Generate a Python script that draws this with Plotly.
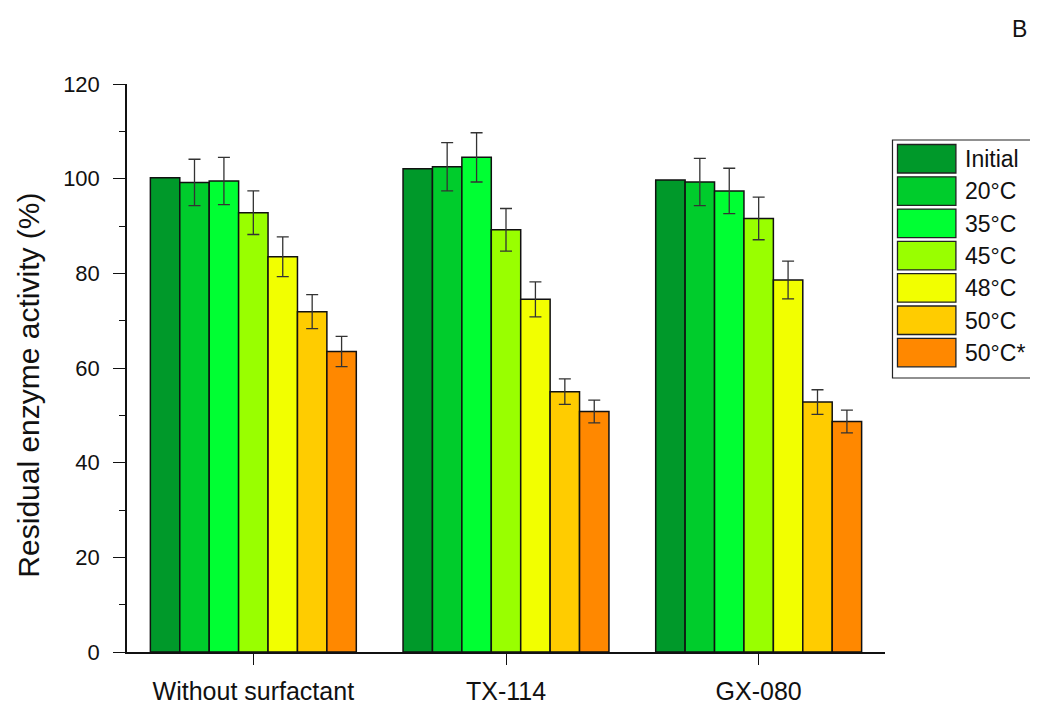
import plotly.graph_objects as go

categories = ["Without surfactant", "TX-114", "GX-080"]
series_names = ["Initial", "20°C", "35°C", "45°C", "48°C", "50°C", "50°C*"]
series_colors = ["#00992A", "#00CC2C", "#00FF33", "#99FF00", "#F2FF00", "#FFCC00", "#FF8800"]

initial = [100.2, 102.1, 99.7]
t20 = [99.2, 102.5, 99.3]
t35 = [99.5, 104.5, 97.4]
t45 = [92.8, 89.2, 91.6]
t48 = [83.5, 74.5, 78.6]
t50 = [71.9, 55.0, 52.8]
t50s = [63.5, 50.8, 48.7]

err_initial = [0, 0, 0]
err_t20 = [4.9, 5.1, 5.0]
err_t35 = [5.0, 5.2, 4.8]
err_t45 = [4.6, 4.5, 4.5]
err_t48 = [4.2, 3.7, 4.0]
err_t50 = [3.6, 2.7, 2.6]
err_t50s = [3.2, 2.4, 2.4]

values = [initial, t20, t35, t45, t48, t50, t50s]
errors = [err_initial, err_t20, err_t35, err_t45, err_t48, err_t50, err_t50s]

FONT = "Liberation Sans"
INK = "#111111"

fig = go.Figure()
for name, color, vals, errs in zip(series_names, series_colors, values, errors):
    fig.add_trace(go.Bar(
        x=categories, y=vals, name=name,
        marker=dict(color=color, line=dict(color=INK, width=1.5)),
        error_y=dict(type="data", array=errs, visible=any(e > 0 for e in errs),
                     color="#333333", thickness=1.3, width=6),
        showlegend=False,
    ))

# page offset: the html body has an 8px margin
OFF = 8
x0_px, x1_px = 126.5, 885.5   # plot area in page pixels
y_top_px, y_bot_px = 84, 652
pw = x1_px - x0_px
ph = y_bot_px - y_top_px
W, H = 1038 - OFF, 706 - OFF

def px_x(px):
    return (px - x0_px) / pw

def px_y(py):
    return (y_bot_px - py) / ph

shapes = [dict(type="rect", xref="paper", yref="paper",
               x0=px_x(893), x1=px_x(1036.5), y0=px_y(378), y1=px_y(140),
               line=dict(color="#222222", width=1.2), fillcolor="white", layer="below")]
annotations = []
for i, (name, color) in enumerate(zip(series_names, series_colors)):
    top = 144.5 + i * 32.3
    shapes.append(dict(type="rect", xref="paper", yref="paper",
                       x0=px_x(898), x1=px_x(956.5), y0=px_y(top + 28.5), y1=px_y(top),
                       line=dict(color="#222222", width=1.3), fillcolor=color))
    annotations.append(dict(xref="paper", yref="paper", x=px_x(964), y=px_y(top + 14.5),
                            text=name, showarrow=False, xanchor="left", yanchor="middle",
                            font=dict(family=FONT, size=23, color=INK)))

annotations.append(dict(xref="paper", yref="paper", x=px_x(1020), y=px_y(29),
                        text="B", showarrow=False, xanchor="center", yanchor="middle",
                        font=dict(family=FONT, size=23, color=INK)))

# y-axis title
annotations.append(dict(xref="paper", yref="paper", x=px_x(27), y=px_y(385),
                        text="Residual enzyme activity (%)", textangle=-90, showarrow=False,
                        xanchor="center", yanchor="middle",
                        font=dict(family=FONT, size=30, color=INK)))

fig.update_layout(
    width=W, height=H,
    margin=dict(l=x0_px - OFF, r=W - (x1_px - OFF), t=y_top_px - OFF, b=H - (y_bot_px - OFF), pad=0),
    paper_bgcolor="white", plot_bgcolor="white",
    barmode="group", bargap=0.185, bargroupgap=0,
    font=dict(family=FONT, size=22, color=INK),
    shapes=shapes, annotations=annotations,
)
fig.update_xaxes(
    range=[-0.5, 2.5], showline=True, linecolor=INK, linewidth=1.5,
    ticks="outside", ticklen=11, tickwidth=1.3, tickcolor=INK,
    showgrid=False, zeroline=False, automargin=False,
    ticklabelstandoff=5,
    tickfont=dict(family=FONT, size=25, color=INK),
)
fig.update_yaxes(
    range=[0, 120], showline=True, linecolor=INK, linewidth=1.5,
    ticks="outside", ticklen=12, tickwidth=1.3, tickcolor=INK,
    tickvals=[0, 20, 40, 60, 80, 100, 120],
    minor=dict(ticks="outside", ticklen=6, tickwidth=1.3, tickcolor=INK,
               tickvals=[10, 30, 50, 70, 90, 110], showgrid=False),
    showgrid=False, zeroline=False, automargin=False,
    ticklabelstandoff=9,
    tickfont=dict(family=FONT, size=22, color=INK),
)

fig.write_html("out.html")
